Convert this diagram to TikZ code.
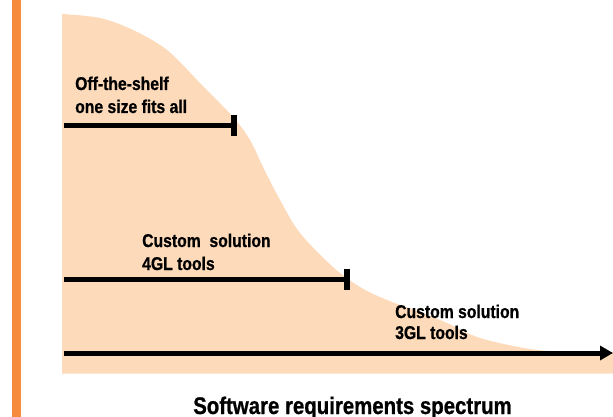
\documentclass[tikz,border=0pt]{standalone}
\usepackage{fontspec}
\setmainfont{Liberation Sans}[FakeStretch=0.85, BoldFeatures={FakeBold=0.8}]
\usetikzlibrary{arrows.meta}
\definecolor{barorange}{RGB}{246,139,60}
\definecolor{peach}{RGB}{252,218,186}
\tikzset{
  lbl/.style={font=\fontsize{18.5}{23}\selectfont\bfseries, inner sep=0pt, anchor=base west},
  ttl/.style={font=\fontsize{24}{28}\selectfont\bfseries, inner sep=0pt, anchor=base},
  span/.style={line width=5pt, -{Bar[width=21pt, line width=6pt]}},
  axis/.style={line width=5pt, -{Triangle[length=13pt, width=14pt]}}
}
\begin{document}
\begin{tikzpicture}[x=1pt, y=-1pt]
\useasboundingbox (0,0) rectangle (613,417);
% left accent bar
\fill[barorange] (12,0) rectangle (21,417);
% demand curve
\fill[peach] (62,373.5) -- plot[smooth, tension=0.55] coordinates {
  (62,14) (100,18) (133,30) (167,50) (200,83) (233,117) (250,140)
  (263,167) (280,200) (300,233) (333,267) (360,287) (387,300)
  (420,312) (447,323) (480,338) (530,349) (570,352) (613,352)}
  -- (613,373.5) -- cycle;
% spans
\coordinate (s1) at (64,126);
\coordinate (e1) at (237,126);
\coordinate (s2) at (64,279);
\coordinate (e2) at (349.5,279);
\coordinate (s3) at (64,353);
\coordinate (e3) at (613,353);
\draw[span] (s1) -- (e1);
\draw[span] (s2) -- (e2);
\draw[axis] (s3) -- (e3);
% labels
\node[lbl] (t1a) at (75,90) {Off-the-shelf};
\node[lbl] (t1b) at (75,113) {one size fits all};
\node[lbl] (t2a) at (142,247) {Custom\ \ solution};
\node[lbl] (t2b) at (142,270) {4GL tools};
\node[lbl] (t3a) at (395,318) {Custom solution};
\node[lbl] (t3b) at (395,339) {3GL tools};
\node[ttl] (title) at (352.5,414) {Software requirements spectrum};
\end{tikzpicture}
\end{document}
